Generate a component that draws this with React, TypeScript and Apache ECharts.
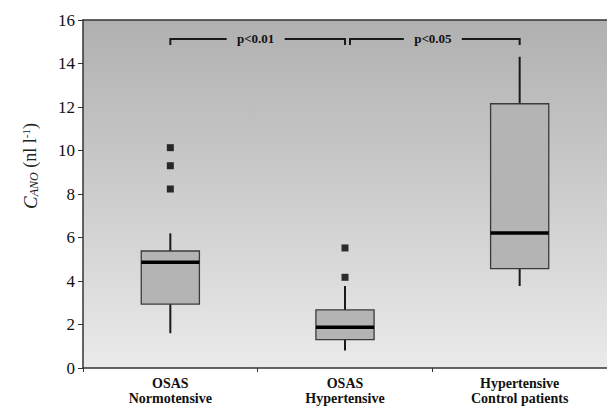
import React, { useEffect, useRef } from "react";
import * as echarts from "echarts";

const categories = ["OSAS\nNormotensive", "OSAS\nHypertensive", "Hypertensive\nControl patients"];
// [min, Q1, median, Q3, max]
const boxValues = [
  [1.6, 2.94, 4.86, 5.38, 6.19],
  [0.8, 1.3, 1.87, 2.67, 3.77],
  [3.77, 4.57, 6.21, 12.15, 14.31],
];
const outliers = [
  [0, 10.13],
  [0, 9.3],
  [0, 8.23],
  [1, 5.52],
  [1, 4.17],
];
// [fromCategory, toCategory, y, label]
const brackets: [number, number, number, string][] = [
  [0, 1, 15.13, "p<0.01"],
  [1, 2, 15.13, "p<0.05"],
];
const yTicks = { min: 0, max: 16, interval: 2 };

const SERIF = "'Liberation Serif', 'DejaVu Serif', serif";

export default function App() {
  const ref = useRef<HTMLDivElement>(null);
  useEffect(() => {
    if (!ref.current) return;
    const chart = echarts.init(ref.current, null, { renderer: "svg" });
    chart.setOption({
      animation: false,
      grid: {
        left: 83,
        right: -8,
        top: 20,
        bottom: 43,
        show: true,
        borderWidth: 0,
        backgroundColor: new echarts.graphic.LinearGradient(0, 0, 0, 1, [
          { offset: 0, color: "#b0b0b0" },
          { offset: 1, color: "#eaeaea" },
        ]),
      },
      xAxis: [
        {
          type: "category",
          data: categories,
          axisLine: { lineStyle: { color: "#333", width: 1.5 } },
          axisTick: { show: true, length: 4, lineStyle: { color: "#333" } },
          axisLabel: {
            color: "#111",
            fontFamily: SERIF,
            fontWeight: "bold",
            fontSize: 14,
            lineHeight: 15,
            margin: 8,
          },
          splitLine: { show: false },
        },
        {
          type: "category",
          position: "top",
          data: categories,
          axisLine: { show: true, lineStyle: { color: "#333", width: 1.5 } },
          axisTick: { show: false },
          axisLabel: { show: false },
        },
      ],
      yAxis: {
        type: "value",
        min: yTicks.min,
        max: yTicks.max,
        interval: yTicks.interval,
        axisLine: { show: true, lineStyle: { color: "#333", width: 1.5 } },
        axisTick: { show: true, length: 5, lineStyle: { color: "#333" } },
        axisLabel: { color: "#111", fontFamily: SERIF, fontSize: 17, margin: 8 },
        splitLine: { show: false },
      },
      graphic: [
        {
          type: "text",
          x: 30,
          y: 166,
          rotation: Math.PI / 2,
          style: {
            text: "{c|C}{sub|ANO}{n| (nl l}{sup|-1}{n|)}",
            align: "center",
            verticalAlign: "middle",
            fill: "#222",
            rich: {
              c: { fontFamily: SERIF, fontSize: 19, fontStyle: "italic", fill: "#222" },
              sub: { fontFamily: SERIF, fontSize: 12, fontStyle: "italic", fill: "#222", verticalAlign: "bottom", padding: [7, 0, 0, 0] },
              n: { fontFamily: SERIF, fontSize: 18, fill: "#222" },
              sup: { fontFamily: SERIF, fontSize: 11, fill: "#222", verticalAlign: "top", padding: [0, 0, 7, 0] },
            },
          },
        },
      ],
      series: [
        {
          type: "custom",
          name: "box",
          data: boxValues.map((v, i) => [i, ...v]),
          encode: { x: 0, y: [1, 2, 3, 4, 5] },
          renderItem: (params: any, api: any) => {
            const x = api.value(0);
            const pMin = api.coord([x, api.value(1)]);
            const pQ1 = api.coord([x, api.value(2)]);
            const pMed = api.coord([x, api.value(3)]);
            const pQ3 = api.coord([x, api.value(4)]);
            const pMax = api.coord([x, api.value(5)]);
            const w = api.size([1, 0])[0] * 0.333;
            const cx = pMed[0];
            return {
              type: "group",
              children: [
                { type: "line", shape: { x1: cx, y1: pMax[1], x2: cx, y2: pQ3[1] }, style: { stroke: "#1a1a1a", lineWidth: 2 } },
                { type: "line", shape: { x1: cx, y1: pQ1[1], x2: cx, y2: pMin[1] }, style: { stroke: "#1a1a1a", lineWidth: 2 } },
                {
                  type: "rect",
                  shape: { x: cx - w / 2, y: pQ3[1], width: w, height: pQ1[1] - pQ3[1] },
                  style: { fill: "#b4b4b4", stroke: "#3a3a3a", lineWidth: 1.3 },
                },
                { type: "line", shape: { x1: cx - w / 2, y1: pMed[1], x2: cx + w / 2, y2: pMed[1] }, style: { stroke: "#000", lineWidth: 3.5 } },
              ],
            };
          },
          z: 3,
        },
        {
          type: "scatter",
          name: "outliers",
          data: outliers,
          symbol: "rect",
          symbolSize: 7,
          itemStyle: { color: "#000" },
          z: 4,
        },
        {
          type: "custom",
          name: "brackets",
          data: brackets,
          renderItem: (params: any, api: any) => {
            const b = brackets[params.dataIndex];
            const a = api.coord([b[0], b[2]]);
            const c = api.coord([b[1], b[2]]);
            const x1 = a[0] + (b[0] > 0 ? 5 : 0);
            const x2 = c[0];
            const y = a[1];
            const mid = (x1 + x2) / 2;
            const gap = 27;
            const tip = 6;
            const st = { stroke: "#1a1a1a", lineWidth: 2 };
            return {
              type: "group",
              children: [
                { type: "polyline", shape: { points: [[x1, y + tip], [x1, y], [mid - gap - 4, y]] }, style: { ...st, fill: "none" } },
                { type: "polyline", shape: { points: [[mid + gap, y], [x2, y], [x2, y + tip]] }, style: { ...st, fill: "none" } },
                {
                  type: "text",
                  x: mid - 2,
                  y: y,
                  style: {
                    text: b[3],
                    fontFamily: SERIF,
                    fontWeight: "bold",
                    fontSize: 13,
                    fill: "#111",
                    align: "center",
                    verticalAlign: "middle",
                  },
                },
              ],
            };
          },
          z: 5,
        },
      ],
    });
    return () => chart.dispose();
  }, []);
  return <div ref={ref} style={{ position: "absolute", left: 0, top: 0, width: 607, height: 411 }} />;
}
